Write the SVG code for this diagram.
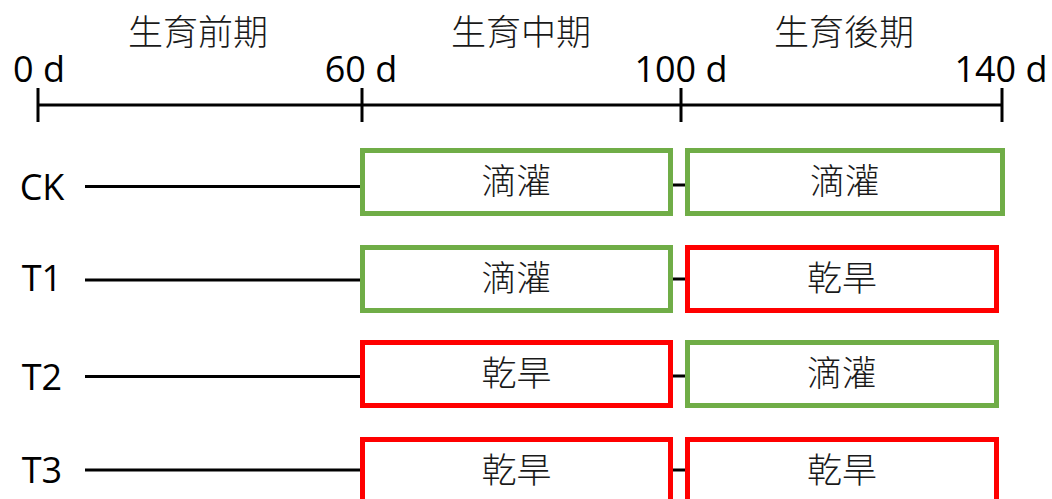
<svg xmlns="http://www.w3.org/2000/svg" width="1052" height="499" viewBox="0 0 1052 499">
<style>
text{font-family:"Open Sans","Noto Sans CJK TC",sans-serif;fill:#000;}
.lab{font-size:36px;text-anchor:middle;}
.cjk{font-family:"Noto Sans CJK TC",sans-serif;font-size:35px;font-weight:300;text-anchor:middle;fill:#1a1a1a;}
.ln{stroke:#000;stroke-width:3;fill:none;}
.g{fill:#fff;stroke:#70AD47;stroke-width:5;}
.r{fill:#fff;stroke:#FF0000;stroke-width:5;}
</style>
<rect width="1052" height="499" fill="#fff"/>
<g id="axis">
<line class="ln" x1="38" y1="105" x2="1002" y2="105"/>
<line class="ln" x1="38" y1="88" x2="38" y2="122"/>
<line class="ln" x1="362" y1="88" x2="362" y2="122"/>
<line class="ln" x1="681" y1="88" x2="681" y2="122"/>
<line class="ln" x1="1002" y1="88" x2="1002" y2="122"/>
<text class="lab" x="39" y="82">0 d</text>
<text class="lab" x="361" y="82">60 d</text>
<text class="lab" x="681" y="82">100 d</text>
<text class="lab" x="1001" y="82">140 d</text>
<text class="cjk" x="198" y="45">生育前期</text>
<text class="cjk" x="521" y="45">生育中期</text>
<text class="cjk" x="844" y="45">生育後期</text>
</g>
<g id="connectors">
<line class="ln" x1="85" y1="186.5" x2="362" y2="186.5"/>
<line class="ln" x1="85" y1="280" x2="362" y2="280"/>
<line class="ln" x1="85" y1="376.5" x2="362" y2="376.5"/>
<line class="ln" x1="85" y1="470" x2="362" y2="470"/>
<line class="ln" x1="672" y1="185" x2="686" y2="185"/>
<line class="ln" x1="672" y1="279" x2="686" y2="279"/>
<line class="ln" x1="672" y1="376" x2="686" y2="376"/>
<line class="ln" x1="672" y1="470" x2="686" y2="470"/>
</g>
<g id="row-CK">
<text class="lab" x="42" y="200">CK</text>
<g id="CK-mid"><rect class="g" x="362.5" y="150.5" width="308" height="63"/><text class="cjk" x="516.5" y="194">滴灌</text></g>
<g id="CK-late"><rect class="g" x="687.5" y="150.5" width="315" height="63"/><text class="cjk" x="845" y="194">滴灌</text></g>
</g>
<g id="row-T1">
<text class="lab" x="42" y="291">T1</text>
<g id="T1-mid"><rect class="g" x="362.5" y="247.5" width="308" height="63"/><text class="cjk" x="516.5" y="291">滴灌</text></g>
<g id="T1-late"><rect class="r" x="687.5" y="247.5" width="309" height="63"/><text class="cjk" x="842" y="291">乾旱</text></g>
</g>
<g id="row-T2">
<text class="lab" x="42" y="390">T2</text>
<g id="T2-mid"><rect class="r" x="362.5" y="342.5" width="308" height="63"/><text class="cjk" x="516.5" y="386">乾旱</text></g>
<g id="T2-late"><rect class="g" x="687.5" y="342.5" width="309" height="63"/><text class="cjk" x="842" y="386">滴灌</text></g>
</g>
<g id="row-T3">
<text class="lab" x="42" y="483">T3</text>
<g id="T3-mid"><rect class="r" x="362.5" y="439.5" width="308" height="63"/><text class="cjk" x="516.5" y="483">乾旱</text></g>
<g id="T3-late"><rect class="r" x="687.5" y="439.5" width="309" height="63"/><text class="cjk" x="842" y="483">乾旱</text></g>
</g>
</svg>
